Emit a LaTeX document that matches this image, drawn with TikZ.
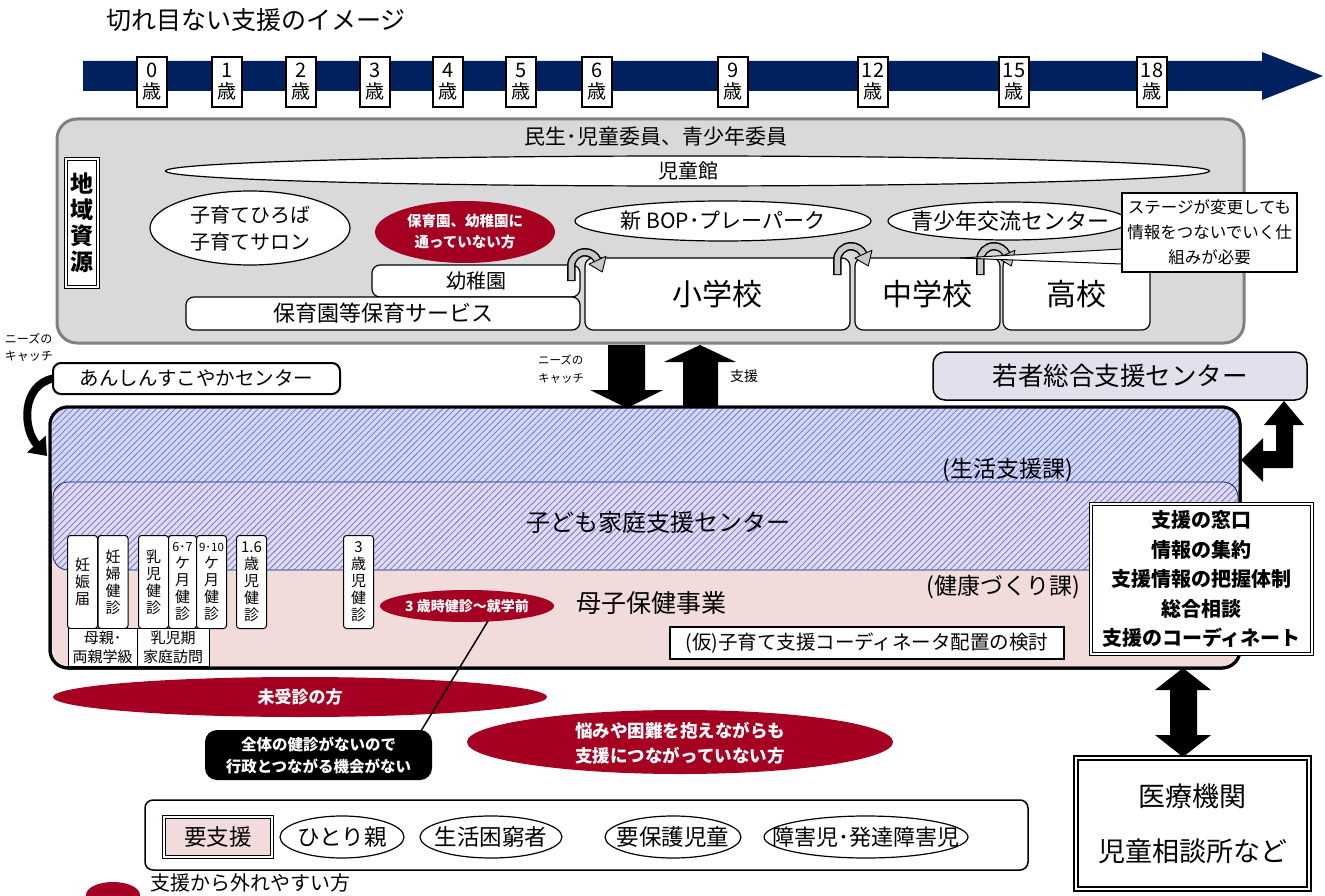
\documentclass[tikz,border=0pt]{standalone}
\usepackage{fontspec}
\setmainfont{Noto Sans CJK JP}
\usetikzlibrary{shapes.geometric,arrows.meta,patterns.meta}
\definecolor{navy}{RGB}{0,32,96}
\definecolor{grayfill}{RGB}{217,217,217}
\definecolor{grayline}{RGB}{128,128,128}
\definecolor{darkred}{RGB}{165,0,33}
\definecolor{pinkbg}{RGB}{242,220,219}
\definecolor{lavender}{RGB}{228,223,236}
\definecolor{hatchA}{RGB}{210,216,244}
\definecolor{hatchB}{RGB}{226,218,238}
\definecolor{hatchline}{RGB}{110,120,215}
\definecolor{bentgray}{RGB}{200,200,200}
\newcommand\fsz[2]{\fontsize{#1}{#2}\selectfont}
\newcommand\bentarrow[2]{%
  \begin{scope}[shift={(#1,#2)}, scale=1.25]
    \draw[line width=8.5pt] (-11,12) -- (-11,0) arc[start angle=180, end angle=335, radius=11];
    \draw[line width=5.5pt, bentgray] (-11,11.2) -- (-11,0) arc[start angle=180, end angle=335, radius=11];
    \filldraw[fill=bentgray, line width=0.9pt, line join=round] (16.8,-7.8) -- (13.8,4.8) -- (3.1,-1.5) -- cycle;
  \end{scope}}
\begin{document}
\begin{tikzpicture}[x=1pt,y=-1pt, every node/.style={inner sep=0pt, outer sep=0pt},
  agebox/.style={draw, fill=white, line width=1.6pt, minimum width=30pt, minimum height=50pt, align=center, font=\fsz{19}{21}},
  wbox/.style={draw, fill=white, rounded corners=8pt, line width=1.2pt},
  vbox/.style={draw, fill=white, rounded corners=3pt, line width=1pt, minimum width=30pt, minimum height=93pt, align=center, font=\fsz{15}{17}},
  smallbox/.style={draw, fill=white, line width=1pt, minimum height=38pt, align=center, font=\fsz{15}{19}},
  oval/.style={fill=white, draw, line width=1.2pt},
  wtext/.style={text=white, align=center},
  hatch/.style={pattern={Lines[angle=45,distance=4.5pt,line width=0.8pt]}, pattern color=hatchline},
  dbl/.style={draw, double, double distance=2pt, line width=1.2pt, fill=white}]
\useasboundingbox (0,0) rectangle (1325,896);

% title
\node[anchor=west, font=\fsz{25}{28}] (title) at (106,20) {切れ目ない支援のイメージ};

% timeline
\fill[navy] (83,61) -- (1262,61) -- (1262,52) -- (1323,76) -- (1262,100) -- (1262,91) -- (83,91) -- cycle;
\foreach \x/\a in {152/0,227/1,301/2,375/3,448/4,521/5,597/6,733/9,873/12,1014/15,1152/18}
  \node[agebox] (age\a) at (\x,82) {{\fsz{20}{21}\a}\\歳};

% community resources region
\draw[line width=3pt, draw=grayline, fill=grayfill, rounded corners=20pt] (57,119) rectangle (1244,343);
\node[font=\fsz{21}{23}] (minsei) at (656,137) {民生･児童委員、青少年委員};
\draw[oval] (687.5,171) ellipse [x radius=522, y radius=15];
\node[font=\fsz{20}{22}] (jidokan) at (688,171) {児童館};
\node[dbl, minimum width=32pt, minimum height=128pt, align=center, font=\bfseries\fsz{23}{26}] (chiiki) at (82,223) {地\\域\\資\\源};

\draw[oval] (250,228) ellipse [x radius=100, y radius=37];
\node[align=center, font=\fsz{20}{27}] (hiroba) at (250,228) {子育てひろば\\子育てサロン};
\fill[darkred] (465,232) ellipse [x radius=90, y radius=31];
\node[wtext, font=\bfseries\fsz{14.5}{21}] (notenrolled) at (465,232) {保育園、幼稚園に\\通っていない方};
\draw[oval] (723,221) ellipse [x radius=148, y radius=20];
\node[font=\fsz{21}{23}] (bop) at (723,221) {新 BOP･プレーパーク};
\draw[oval] (1008,221) ellipse [x radius=120, y radius=19];
\node[font=\fsz{22}{24}] (seisho) at (1010,221) {青少年交流センター};

\node[wbox, minimum width=208pt, minimum height=32pt, font=\fsz{20}{22}] (yochien) at (476,281) {幼稚園};
\node[wbox, minimum width=394pt, minimum height=33pt, font=\fsz{22}{24}] (hoikuen) at (383,313.5) {保育園等保育サービス};
\node[wbox, minimum width=265pt, minimum height=72pt, font=\fsz{30}{32}] (elem) at (717.5,294) {小学校};
\node[wbox, minimum width=145pt, minimum height=72pt, font=\fsz{30}{32}] (jhs) at (927.5,294) {中学校};
\node[wbox, minimum width=147pt, minimum height=72pt, font=\fsz{30}{32}] (hs) at (1076.5,294) {高校};

\bentarrow{585}{266}
\bentarrow{851}{260}
\bentarrow{994}{260}

% callout
\filldraw[fill=white, line width=1pt] (960,258) -- (1122,249) -- (1122,264) -- cycle;
\node[draw, fill=white, line width=1.5pt, minimum width=175pt, minimum height=79pt, align=center, font=\fsz{16.5}{25}] (callout) at (1209.5,232.5) {ステージが変更しても\\情報をつないでいく仕\\組みが必要};

% needs catch (left)
\node[anchor=north west, align=left, font=\fsz{12}{17}] (needsA) at (5,333) {ニーズの\\キャッチ};
\node[wbox, line width=2pt, minimum width=287pt, minimum height=31pt, font=\fsz{19.5}{22}] (anshin) at (196.5,378.5) {あんしんすこやかセンター};

% middle block arrows
\fill (608,345) -- (645,345) -- (645,390) -- (663,390) -- (627,408) -- (590,390) -- (608,390) -- cycle;
\fill (683,408) -- (718,408) -- (718,362) -- (736,362) -- (700,345) -- (664,362) -- (683,362) -- cycle;
\node[align=left, font=\fsz{11.5}{18}] (needsB) at (561,369) {ニーズの\\キャッチ};
\node[font=\fsz{14}{16}] (shien) at (744,376) {支援};

% youth center
\node[draw, fill=lavender, rounded corners=12pt, line width=1.5pt, minimum width=374pt, minimum height=48pt, font=\fsz{25.5}{27}] (wakamono) at (1120,376) {若者総合支援センター};

% big box
\draw[line width=3pt, fill=pinkbg, rounded corners=18pt] (50,407) rectangle (1240,668);
\begin{scope}
  \clip[rounded corners=18pt] (50,407) rectangle (1240,668);
  \fill[hatchA] (50,407) rectangle (1240,490);
  \fill[hatch] (50,407) rectangle (1240,490);
\end{scope}
\filldraw[fill=hatchB, draw=navy, line width=0.8pt, rounded corners=15pt] (53,482) rectangle (1238,570);
\fill[hatch, rounded corners=15pt] (53,482) rectangle (1238,570);
\draw[line width=3pt, rounded corners=18pt] (50,407) rectangle (1240,668);

\draw[line width=8pt, -{Triangle[length=16pt, width=24pt]}] (anshin.west) .. controls (22,385) and (22,428) .. (47,456);

\node[font=\fsz{23}{25}] (seikatsu) at (1008,470) {(生活支援課)};
\node[font=\fsz{24}{26}] (kodomo) at (658,522) {子ども家庭支援センター};
\node[font=\fsz{23}{25}] (kenko) at (1003,587) {(健康づくり課)};
\node[font=\fsz{25}{27}] (boshi) at (651,603) {母子保健事業};
\node[draw, fill=white, line width=1.2pt, minimum width=394pt, minimum height=32pt, font=\fsz{19.5}{21}] (coord) at (867,643) {(仮)子育て支援コーディネータ配置の検討};

% health checkups
\node[vbox] (ninshin) at (82.5,582) {妊\\娠\\届};
\node[vbox] (ninpu) at (113,582) {妊\\婦\\健\\診};
\node[vbox] (nyuji) at (153.5,582) {乳\\児\\健\\診};
\node[vbox, minimum width=28pt] (mA) at (182.5,582) {{\fsz{12.5}{14}6･7}\\ケ\\月\\健\\診};
\node[vbox] (mB) at (211.5,582) {{\fsz{11.5}{14}9･10}\\ケ\\月\\健\\診};
\node[vbox] (yA) at (251.5,582) {1.6\\歳\\児\\健\\診};
\node[vbox] (yB) at (358.5,582) {3\\歳\\児\\健\\診};
\node[smallbox, minimum width=69pt] (ryoshin) at (102.5,647) {母親･\\両親学級};
\node[smallbox, minimum width=72pt] (homon) at (173,647) {乳児期\\家庭訪問};

\fill[darkred] (467,606) ellipse [x radius=87, y radius=16];
\node[wtext, font=\bfseries\fsz{14}{16}] (age3) at (467,606) {3 歳時健診～就学前};

% right window box and arrows
\node[dbl, minimum width=221pt, minimum height=150pt, align=center, font=\bfseries\fsz{20}{29.5}] (madoguchi) at (1201.5,579) {支援の窓口\\情報の集約\\支援情報の把握体制\\総合相談\\支援のコーディネート};
\fill (1241,460) -- (1263,438) -- (1263,451) -- (1276,451) -- (1276,425) -- (1264,425) -- (1284,401) -- (1304,425) -- (1293,425) -- (1293,468) -- (1263,468) -- (1263,482) -- cycle;
\fill (1183,668) -- (1211,690) -- (1197,690) -- (1197,735) -- (1211,735) -- (1183,757) -- (1155,735) -- (1170,735) -- (1170,690) -- (1155,690) -- cycle;
\node[draw, double, double distance=2.5pt, line width=1.5pt, fill=white, minimum width=233pt, minimum height=131pt, align=center, font=\fsz{27}{55}] (iryo) at (1192.5,823.5) {医療機関\\児童相談所など};

% red ovals below
\fill[darkred] (300,697) ellipse [x radius=247, y radius=20];
\node[wtext, font=\bfseries\fsz{17}{19}] (mijushin) at (300,697) {未受診の方};
\node[fill=black, rounded corners=12pt, minimum width=227pt, minimum height=50pt, wtext, font=\bfseries\fsz{15.5}{22}] (nocheck) at (318.5,755) {全体の健診がないので\\行政とつながる機会がない};
\coordinate (lineTop) at (488,621);
\coordinate (lineBot) at (421,731);
\draw[line width=1.5pt] (lineTop) -- (lineBot);
\fill[darkred] (680,742) ellipse [x radius=213, y radius=32];
\node[wtext, font=\bfseries\fsz{17.5}{25}] (nayami) at (680,743) {悩みや困難を抱えながらも\\支援につながっていない方};

% bottom legend box
\node[draw, rounded corners=8pt, line width=1.5pt, minimum width=883pt, minimum height=70pt] (legendbox) at (586.5,835) {};
\node[draw, double, double distance=2pt, line width=1.2pt, fill=pinkbg, minimum width=108pt, minimum height=40pt, font=\fsz{22.5}{24}] (yoshien) at (218,837) {要支援};
\draw[oval] (342,837) ellipse [x radius=62, y radius=21];
\node[font=\fsz{22.5}{24}] (hitori) at (342,837) {ひとり親};
\draw[oval] (491,837) ellipse [x radius=71, y radius=21];
\node[font=\fsz{22.5}{24}] (konkyu) at (491,837) {生活困窮者};
\draw[oval] (673,837) ellipse [x radius=68, y radius=21];
\node[font=\fsz{22.5}{24}] (yohogo) at (673,837) {要保護児童};
\draw[oval] (866,837) ellipse [x radius=102, y radius=21];
\node[font=\fsz{22}{24}] (shogai) at (866,837) {障害児･発達障害児};

% key
\fill[darkred] (113,895) ellipse [x radius=27, y radius=13];
\node[anchor=north west, font=\fsz{20}{22}] (key) at (150,874) {支援から外れやすい方};
\end{tikzpicture}
\end{document}
